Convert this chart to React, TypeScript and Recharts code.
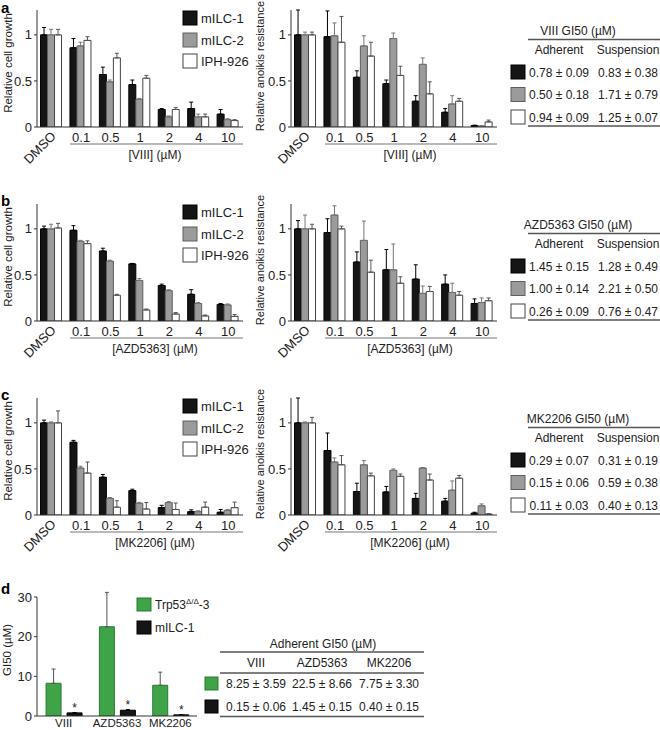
import React from "react";
import { BarChart, Bar, XAxis, YAxis, ErrorBar, LabelList } from "recharts";

const FONT = '"Liberation Sans", Arial, sans-serif';
const INK = "#222";

const doses = ["DMSO", "0.1", "0.5", "1", "2", "4", "10"];
const cellLines = ["mILC-1", "mILC-2", "IPH-926"];

// a: VIII, adherent growth
const viiiGrowthM1 = [1.0, 0.86, 0.57, 0.46, 0.19, 0.2, 0.14];
const viiiGrowthM1Err = [0.08, 0.1, 0.08, 0.05, 0.01, 0.07, 0.05];
const viiiGrowthM2 = [1.0, 0.88, 0.49, 0.3, 0.11, 0.11, 0.08];
const viiiGrowthM2Err = [0.06, 0.04, 0.02, 0.01, 0.01, 0.03, 0.01];
const viiiGrowthIph = [1.0, 0.94, 0.75, 0.53, 0.19, 0.11, 0.07];
const viiiGrowthIphErr = [0.06, 0.04, 0.05, 0.03, 0.02, 0.03, 0.01];
// a: VIII, anoikis
const viiiAnoikisM1 = [1.0, 0.98, 0.54, 0.47, 0.28, 0.16, 0.015];
const viiiAnoikisM1Err = [0.27, 0.28, 0.07, 0.04, 0.06, 0.04, 0.005];
const viiiAnoikisM2 = [1.0, 0.99, 0.88, 0.96, 0.68, 0.25, 0.01];
const viiiAnoikisM2Err = [0.03, 0.14, 0.11, 0.06, 0.07, 0.09, 0.005];
const viiiAnoikisIph = [1.0, 0.92, 0.77, 0.56, 0.36, 0.28, 0.055];
const viiiAnoikisIphErr = [0.03, 0.28, 0.15, 0.1, 0.13, 0.03, 0.02];

// b: AZD5363
const azdGrowthM1 = [1.0, 0.985, 0.76, 0.62, 0.385, 0.29, 0.18];
const azdGrowthM1Err = [0.03, 0.05, 0.03, 0.005, 0.015, 0.05, 0.01];
const azdGrowthM2 = [1.0, 0.865, 0.65, 0.44, 0.33, 0.19, 0.175];
const azdGrowthM2Err = [0.05, 0.01, 0.01, 0.02, 0.01, 0.01, 0.01];
const azdGrowthIph = [1.01, 0.84, 0.28, 0.12, 0.076, 0.055, 0.05];
const azdGrowthIphErr = [0.05, 0.03, 0.01, 0.01, 0.015, 0.01, 0.02];
const azdAnoikisM1 = [1.0, 0.96, 0.64, 0.556, 0.455, 0.4, 0.19];
const azdAnoikisM1Err = [0.09, 0.15, 0.11, 0.22, 0.155, 0.1, 0.05];
const azdAnoikisM2 = [1.0, 1.15, 0.875, 0.556, 0.3, 0.31, 0.2];
const azdAnoikisM2Err = [0.15, 0.1, 0.21, 0.28, 0.08, 0.1, 0.05];
const azdAnoikisIph = [1.0, 1.0, 0.53, 0.41, 0.32, 0.28, 0.22];
const azdAnoikisIphErr = [0.05, 0.03, 0.13, 0.07, 0.055, 0.04, 0.03];

// c: MK2206
const mkGrowthM1 = [1.0, 0.79, 0.41, 0.265, 0.08, 0.036, 0.03];
const mkGrowthM1Err = [0.03, 0.02, 0.03, 0.015, 0.025, 0.02, 0.03];
const mkGrowthM2 = [1.0, 0.51, 0.18, 0.127, 0.135, 0.036, 0.05];
const mkGrowthM2Err = [0.01, 0.02, 0.01, 0.01, 0.01, 0.01, 0.01];
const mkGrowthIph = [1.0, 0.455, 0.085, 0.065, 0.06, 0.085, 0.08];
const mkGrowthIphErr = [0.13, 0.12, 0.07, 0.07, 0.07, 0.055, 0.06];
const mkAnoikisM1 = [1.0, 0.7, 0.255, 0.25, 0.18, 0.15, 0.02];
const mkAnoikisM1Err = [0.27, 0.19, 0.09, 0.06, 0.055, 0.03, 0.01];
const mkAnoikisM2 = [1.0, 0.575, 0.545, 0.485, 0.51, 0.27, 0.1];
const mkAnoikisM2Err = [0.01, 0.045, 0.045, 0.015, 0.005, 0.1, 0.02];
const mkAnoikisIph = [1.0, 0.545, 0.425, 0.42, 0.38, 0.4, 0.01];
const mkAnoikisIphErr = [0.06, 0.1, 0.03, 0.025, 0.065, 0.03, 0.005];

// GI50 tables
const viiiAdherent = ["0.78 ± 0.09", "0.50 ± 0.18", "0.94 ± 0.09"];
const viiiSuspension = ["0.83 ± 0.38", "1.71 ± 0.79", "1.25 ± 0.07"];
const azdAdherent = ["1.45 ± 0.15", "1.00 ± 0.14", "0.26 ± 0.09"];
const azdSuspension = ["1.28 ± 0.49", "2.21 ± 0.50", "0.76 ± 0.47"];
const mkAdherent = ["0.29 ± 0.07", "0.15 ± 0.06", "0.11 ± 0.03"];
const mkSuspension = ["0.31 ± 0.19", "0.59 ± 0.38", "0.40 ± 0.13"];

// d
const drugs = ["VIII", "AZD5363", "MK2206"];
const trpGi50 = [8.25, 22.5, 7.75];
const trpGi50Err = [3.59, 8.66, 3.3];
const ilcGi50 = [0.78, 1.45, 0.29];
const ilcGi50Err = [0.09, 0.15, 0.07];
const trpTable = ["8.25 ± 3.59", "22.5 ± 8.66", "7.75 ± 3.30"];
const ilcTable = ["0.15 ± 0.06", "1.45 ± 0.15", "0.40 ± 0.15"];

const barStyles = [
  { fill: "#151515", stroke: "#000", err: "#000" },
  { fill: "#9b9b9b", stroke: "#5e5e5e", err: "#777" },
  { fill: "#ffffff", stroke: "#444", err: "#555" },
];
const GREEN = "#3fa447";

function rows(vals: number[][], errs: number[][]) {
  return doses.map((d, i) => {
    const r: any = { dose: d };
    vals.forEach((s, k) => {
      r["v" + k] = s[i];
      r["e" + k] = [0, errs[k][i]];
    });
    return r;
  });
}

function DoseTick(props: any) {
  const { x, y, payload } = props;
  if (payload.value === "DMSO") {
    const px = x + 5;
    const py = y + 10;
    return (
      <text x={px} y={py} transform={`rotate(-45 ${px} ${py})`} textAnchor="end" fontSize={13} fill={INK} fontFamily={FONT}>
        DMSO
      </text>
    );
  }
  return (
    <text x={x} y={y + 14.5} textAnchor="middle" fontSize={13} fill={INK} fontFamily={FONT}>
      {payload.value}
    </text>
  );
}

function DoseChart({ left, top, data }: any) {
  return (
    <div style={{ position: "absolute", left, top }}>
      <BarChart width={250} height={170} data={data} margin={{ top: 10, right: 7, bottom: 13, left: 7 }} barGap={0} barCategoryGap="12%">
        <XAxis dataKey="dose" interval={0} tickLine={false} tickSize={0} tickMargin={0} height={30} tick={<DoseTick />} axisLine={{ stroke: "#333" }} />
        <YAxis
          domain={[0, 1.27]}
          allowDataOverflow
          ticks={[0, 0.5, 1]}
          width={30}
          tickSize={3}
          tickMargin={2}
          axisLine={{ stroke: "#333" }}
          tickLine={{ stroke: "#333" }}
          tick={{ fontSize: 13, fill: INK, fontFamily: FONT }}
        />
        {barStyles.map((s, k) => (
          <Bar key={k} dataKey={"v" + k} fill={s.fill} stroke={s.stroke} strokeWidth={1} isAnimationActive={false}>
            <ErrorBar dataKey={"e" + k} width={2} stroke={s.err} strokeWidth={1} direction="y" isAnimationActive={false} />
          </Bar>
        ))}
      </BarChart>
    </div>
  );
}

function RowText({ top, drug }: { top: number; drug: string }) {
  return (
    <g fontFamily={FONT} fill={INK}>
      <text x={8} y={top + 63} transform={`rotate(-90 8 ${top + 63})`} textAnchor="middle" dominantBaseline="central" fontSize={11.5}>
        Relative cell growth
      </text>
      <text x={260} y={top + 66} transform={`rotate(-90 260 ${top + 66})`} textAnchor="middle" dominantBaseline="central" fontSize={11}>
        Relative anoikis resistance
      </text>
      <line x1={70} x2={243} y1={top + 144} y2={top + 144} stroke="#777" strokeWidth={1.2} />
      <line x1={325} x2={497} y1={top + 144} y2={top + 144} stroke="#777" strokeWidth={1.2} />
      <text x={155} y={top + 159} textAnchor="middle" fontSize={12}>{`[${drug}] (µM)`}</text>
      <text x={410} y={top + 159} textAnchor="middle" fontSize={12}>{`[${drug}] (µM)`}</text>
      {cellLines.map((name, i) => {
        const cy = top + [18, 40, 61][i];
        return (
          <g key={name}>
            <rect x={183} y={cy - 7} width={14} height={14} fill={barStyles[i].fill} stroke={barStyles[i].stroke} strokeWidth={1} />
            <text x={201} y={cy + 4.5} fontSize={13}>{name}</text>
          </g>
        );
      })}
    </g>
  );
}

function DoseTable({ top, title, adherent, suspension }: any) {
  return (
    <g fontFamily={FONT} fill={INK} fontSize={12}>
      <text x={578} y={top + 35} textAnchor="middle">{title}</text>
      <line x1={528} x2={660} y1={top + 39.5} y2={top + 39.5} stroke="#555" strokeWidth={1.3} />
      <text x={559} y={top + 54} textAnchor="middle">Adherent</text>
      <text x={628} y={top + 54} textAnchor="middle">Suspension</text>
      {adherent.map((a: string, i: number) => {
        const cy = top + 72 + i * 22.5;
        return (
          <g key={i}>
            <rect x={511} y={cy - 7} width={14} height={14} fill={barStyles[i].fill} stroke={barStyles[i].stroke} strokeWidth={1} />
            <text x={559} y={cy + 4.5} textAnchor="middle">{a}</text>
            <text x={628} y={cy + 4.5} textAnchor="middle">{suspension[i]}</text>
          </g>
        );
      })}
      <line x1={528} x2={660} y1={top + 126} y2={top + 126} stroke="#555" strokeWidth={1.3} />
    </g>
  );
}

function Star(props: any) {
  const { x, y, width } = props;
  return (
    <text x={x + width / 2} y={y - 1} textAnchor="middle" fontSize={12} fill={INK} fontFamily={FONT}>
      *
    </text>
  );
}

function DrugTick(props: any) {
  const { x, y, payload } = props;
  return (
    <text x={x} y={y + 11} textAnchor="middle" fontSize={11.5} fill={INK} fontFamily={FONT}>
      {payload.value}
    </text>
  );
}

export default function App() {
  const panels = [
    {
      top: 0,
      drug: "VIII",
      growth: rows([viiiGrowthM1, viiiGrowthM2, viiiGrowthIph], [viiiGrowthM1Err, viiiGrowthM2Err, viiiGrowthIphErr]),
      anoikis: rows([viiiAnoikisM1, viiiAnoikisM2, viiiAnoikisIph], [viiiAnoikisM1Err, viiiAnoikisM2Err, viiiAnoikisIphErr]),
      adherent: viiiAdherent,
      suspension: viiiSuspension,
    },
    {
      top: 194,
      drug: "AZD5363",
      growth: rows([azdGrowthM1, azdGrowthM2, azdGrowthIph], [azdGrowthM1Err, azdGrowthM2Err, azdGrowthIphErr]),
      anoikis: rows([azdAnoikisM1, azdAnoikisM2, azdAnoikisIph], [azdAnoikisM1Err, azdAnoikisM2Err, azdAnoikisIphErr]),
      adherent: azdAdherent,
      suspension: azdSuspension,
    },
    {
      top: 388,
      drug: "MK2206",
      growth: rows([mkGrowthM1, mkGrowthM2, mkGrowthIph], [mkGrowthM1Err, mkGrowthM2Err, mkGrowthIphErr]),
      anoikis: rows([mkAnoikisM1, mkAnoikisM2, mkAnoikisIph], [mkAnoikisM1Err, mkAnoikisM2Err, mkAnoikisIphErr]),
      adherent: mkAdherent,
      suspension: mkSuspension,
    },
  ];

  const gi50Rows = drugs.map((d, i) => ({
    drug: d,
    trp: trpGi50[i],
    trpErr: [0, trpGi50Err[i]],
    ilc: ilcGi50[i],
    ilcErr: [0, ilcGi50Err[i]],
  }));

  return (
    <div style={{ position: "absolute", left: 0, top: 0, width: 660, height: 730, background: "#fff", fontFamily: FONT, overflow: "hidden" }}>
      {panels.map((p) => (
        <React.Fragment key={p.drug}>
          <DoseChart left={0} top={p.top} data={p.growth} />
          <DoseChart left={254} top={p.top} data={p.anoikis} />
        </React.Fragment>
      ))}

      <div style={{ position: "absolute", left: 0, top: 580 }}>
        <BarChart width={210} height={150} data={gi50Rows} margin={{ top: 17, right: 13, bottom: 0, left: 7 }} barGap={6} barCategoryGap="17%">
          <XAxis dataKey="drug" interval={0} tickLine={false} tickSize={0} tickMargin={0} height={14} tick={<DrugTick />} axisLine={{ stroke: "#333" }} />
          <YAxis
            domain={[0, 30]}
            allowDataOverflow
            ticks={[0, 10, 20, 30]}
            width={30}
            tickSize={3}
            tickMargin={2}
            axisLine={{ stroke: "#333" }}
            tickLine={{ stroke: "#333" }}
            tick={{ fontSize: 13, fill: INK, fontFamily: FONT }}
          />
          <Bar dataKey="trp" fill={GREEN} stroke="#2b7a32" strokeWidth={1} isAnimationActive={false}>
            <ErrorBar dataKey="trpErr" width={2} stroke="#555" strokeWidth={1} direction="y" isAnimationActive={false} />
          </Bar>
          <Bar dataKey="ilc" fill="#151515" stroke="#000" strokeWidth={1} isAnimationActive={false}>
            <ErrorBar dataKey="ilcErr" width={2} stroke="#000" strokeWidth={1} direction="y" isAnimationActive={false} />
            <LabelList dataKey="ilc" content={<Star />} />
          </Bar>
        </BarChart>
      </div>

      <svg width={660} height={730} style={{ position: "absolute", left: 0, top: 0, pointerEvents: "none" }}>
        <g fontFamily={FONT} fontWeight="bold" fontSize={15} fill="#000">
          <text x={1} y={13}>a</text>
          <text x={1} y={206}>b</text>
          <text x={1} y={400}>c</text>
          <text x={1} y={594}>d</text>
        </g>
        {panels.map((p) => (
          <React.Fragment key={p.drug}>
            <RowText top={p.top} drug={p.drug} />
            <DoseTable top={p.top} title={`${p.drug} GI50 (µM)`} adherent={p.adherent} suspension={p.suspension} />
          </React.Fragment>
        ))}

        <g fontFamily={FONT} fill={INK} fontSize={12}>
          <text x={7} y={650} transform="rotate(-90 7 650)" textAnchor="middle" dominantBaseline="central" fontSize={11.5}>
            GI50 (µM)
          </text>
          <rect x={137} y={598} width={14} height={13} fill={GREEN} stroke="#2b7a32" />
          <text x={155} y={609}>
            Trp53
            <tspan dy={-5} fontSize={8}>Δ/Δ</tspan>
            <tspan dy={5}>-3</tspan>
          </text>
          <rect x={137} y={621} width={14} height={13} fill="#151515" stroke="#000" />
          <text x={155} y={632}>mILC-1</text>

          <text x={323} y={648} textAnchor="middle">Adherent GI50 (µM)</text>
          <line x1={220} x2={424} y1={652} y2={652} stroke="#555" strokeWidth={1.3} />
          {drugs.map((d, i) => (
            <text key={d} x={[256, 322, 389][i]} y={667} textAnchor="middle">{d}</text>
          ))}
          <line x1={220} x2={424} y1={673} y2={673} stroke="#555" strokeWidth={1.3} />
          <rect x={205} y={677} width={13} height={13} fill={GREEN} stroke="#2b7a32" />
          <rect x={205} y={700} width={13} height={13} fill="#151515" stroke="#000" />
          {trpTable.map((t, i) => (
            <text key={"t" + i} x={[256, 322, 389][i]} y={688} textAnchor="middle">{t}</text>
          ))}
          {ilcTable.map((t, i) => (
            <text key={"i" + i} x={[256, 322, 389][i]} y={711} textAnchor="middle">{t}</text>
          ))}
          <line x1={220} x2={424} y1={716.5} y2={716.5} stroke="#555" strokeWidth={1.3} />
        </g>
      </svg>
    </div>
  );
}
